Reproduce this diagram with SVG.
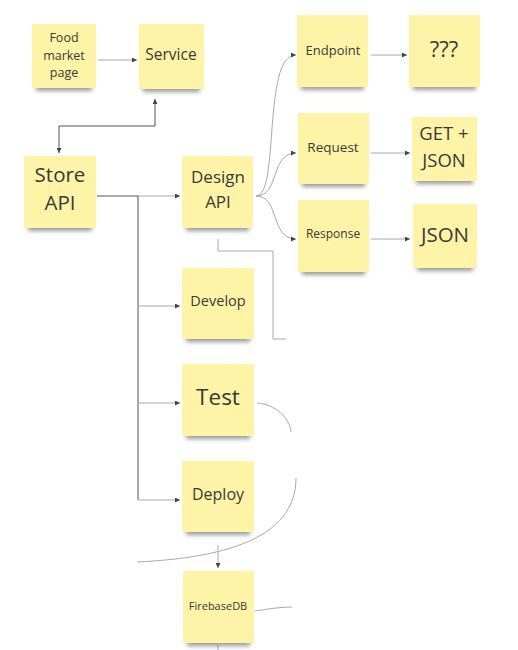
<svg xmlns="http://www.w3.org/2000/svg" width="518" height="650" viewBox="0 0 518 650">
<defs>
<filter id="sh" x="-20%" y="-50%" width="140%" height="200%"><feGaussianBlur stdDeviation="2"/></filter>
<marker id="ah" viewBox="0 0 6 6" refX="6" refY="3" markerWidth="5" markerHeight="5" orient="auto-start-reverse" markerUnits="userSpaceOnUse"><path d="M0,0 L6,3 L0,6 z" fill="#444"/></marker>
</defs>
<style>
.note{fill:#fdf4a7}
.shadow{fill:#4a4a4a;opacity:0.55;filter:url(#sh)}
text{font-family:"Open Sans","DejaVu Sans",sans-serif;fill:#3a3a3a;text-anchor:middle}
.c{fill:none;stroke:#aaa;stroke-width:1}
.d{fill:none;stroke:#555;stroke-width:1}
</style>
<rect width="518" height="650" fill="#fff"/>
<g id="connectors">
<path class="c" d="M98,60 H137" marker-end="url(#ah)"/>
<path class="d" d="M59,153 V126 H155 V99" marker-start="url(#ah)" marker-end="url(#ah)"/>
<path class="d" d="M97,196 H138"/>
<path class="c" d="M138,196 H180" marker-end="url(#ah)"/>
<path class="d" d="M138,196 V500"/>
<path class="c" d="M138,306 H180" marker-end="url(#ah)"/>
<path class="c" d="M138,403 H180" marker-end="url(#ah)"/>
<path class="c" d="M138,500 H180" marker-end="url(#ah)"/>
<path class="c" d="M256,196 C280,196 262,55 296,55" marker-end="url(#ah)"/>
<path class="c" d="M256,196 C280,196 270,153 296,153" marker-end="url(#ah)"/>
<path class="c" d="M256,196 C280,196 270,239 296,239" marker-end="url(#ah)"/>
<path class="c" d="M371,55 H407" marker-end="url(#ah)"/>
<path class="c" d="M371,153 H410" marker-end="url(#ah)"/>
<path class="c" d="M371,239 H410" marker-end="url(#ah)"/>
<path class="c" d="M218,239 V251 H273 V339 H286"/>
<path class="c" d="M257,403 C275,404 290,418 291,432"/>
<path class="c" d="M296,478 C296,540 220,558 137,562"/>
<path class="c" d="M218,545 V568" marker-end="url(#ah)"/>
<path class="c" d="M255,611 C268,609 280,607 292,607"/>
<path class="c" d="M218,645 V650"/>
</g>
<g id="food">
<rect class="shadow" x="36" y="80" width="56" height="11"/>
<rect class="note" x="32" y="24" width="64" height="64"/>
<text font-size="12.5"><tspan x="64" y="42">Food</tspan><tspan x="64" y="60">market</tspan><tspan x="64" y="77">page</tspan></text>
</g>
<g id="service">
<rect class="shadow" x="143" y="81" width="57" height="11"/>
<rect class="note" x="139" y="24" width="65" height="65"/>
<text x="171" y="60" font-size="15.5">Service</text>
</g>
<g id="store">
<rect class="shadow" x="28" y="219" width="64" height="12"/>
<rect class="note" x="24" y="156" width="72" height="72"/>
<text font-size="20.5"><tspan x="60" y="182">Store</tspan><tspan x="60" y="210">API</tspan></text>
</g>
<g id="design">
<rect class="shadow" x="186" y="219" width="63" height="12"/>
<rect class="note" x="182" y="156" width="71" height="72"/>
<text font-size="17"><tspan x="218" y="183">Design</tspan><tspan x="218" y="208">API</tspan></text>
</g>
<g id="endpoint">
<rect class="shadow" x="301" y="78" width="63" height="12"/>
<rect class="note" x="297" y="15" width="71" height="72"/>
<text x="333" y="55" font-size="13">Endpoint</text>
</g>
<g id="qqq">
<rect class="shadow" x="413" y="78" width="63" height="12"/>
<rect class="note" x="409" y="15" width="71" height="72"/>
<text x="444" y="57" font-size="22">???</text>
</g>
<g id="request">
<rect class="shadow" x="302" y="175" width="63" height="12"/>
<rect class="note" x="298" y="113" width="71" height="71"/>
<text x="333" y="152" font-size="13.5">Request</text>
</g>
<g id="get">
<rect class="shadow" x="416" y="172" width="57" height="12"/>
<rect class="note" x="412" y="117" width="65" height="64"/>
<text font-size="18.5"><tspan x="444" y="140">GET +</tspan><tspan x="444" y="167">JSON</tspan></text>
</g>
<g id="response">
<rect class="shadow" x="302" y="263" width="63" height="12"/>
<rect class="note" x="298" y="200" width="71" height="72"/>
<text x="333" y="238" font-size="12">Response</text>
</g>
<g id="json">
<rect class="shadow" x="417" y="259" width="56" height="12"/>
<rect class="note" x="413" y="204" width="64" height="64"/>
<text x="445" y="242" font-size="20.5">JSON</text>
</g>
<g id="develop">
<rect class="shadow" x="186" y="330" width="64" height="12"/>
<rect class="note" x="182" y="268" width="72" height="71"/>
<text x="218" y="306" font-size="14.5">Develop</text>
</g>
<g id="test">
<rect class="shadow" x="186" y="427" width="64" height="12"/>
<rect class="note" x="182" y="364" width="72" height="72"/>
<text x="218" y="405" font-size="22.5">Test</text>
</g>
<g id="deploy">
<rect class="shadow" x="186" y="523" width="64" height="12"/>
<rect class="note" x="182" y="461" width="72" height="71"/>
<text x="218" y="500" font-size="16">Deploy</text>
</g>
<g id="firebase">
<rect class="shadow" x="187" y="634" width="63" height="12"/>
<rect class="note" x="183" y="571" width="71" height="72"/>
<text x="218" y="610" font-size="11">FirebaseDB</text>
</g>
</svg>
